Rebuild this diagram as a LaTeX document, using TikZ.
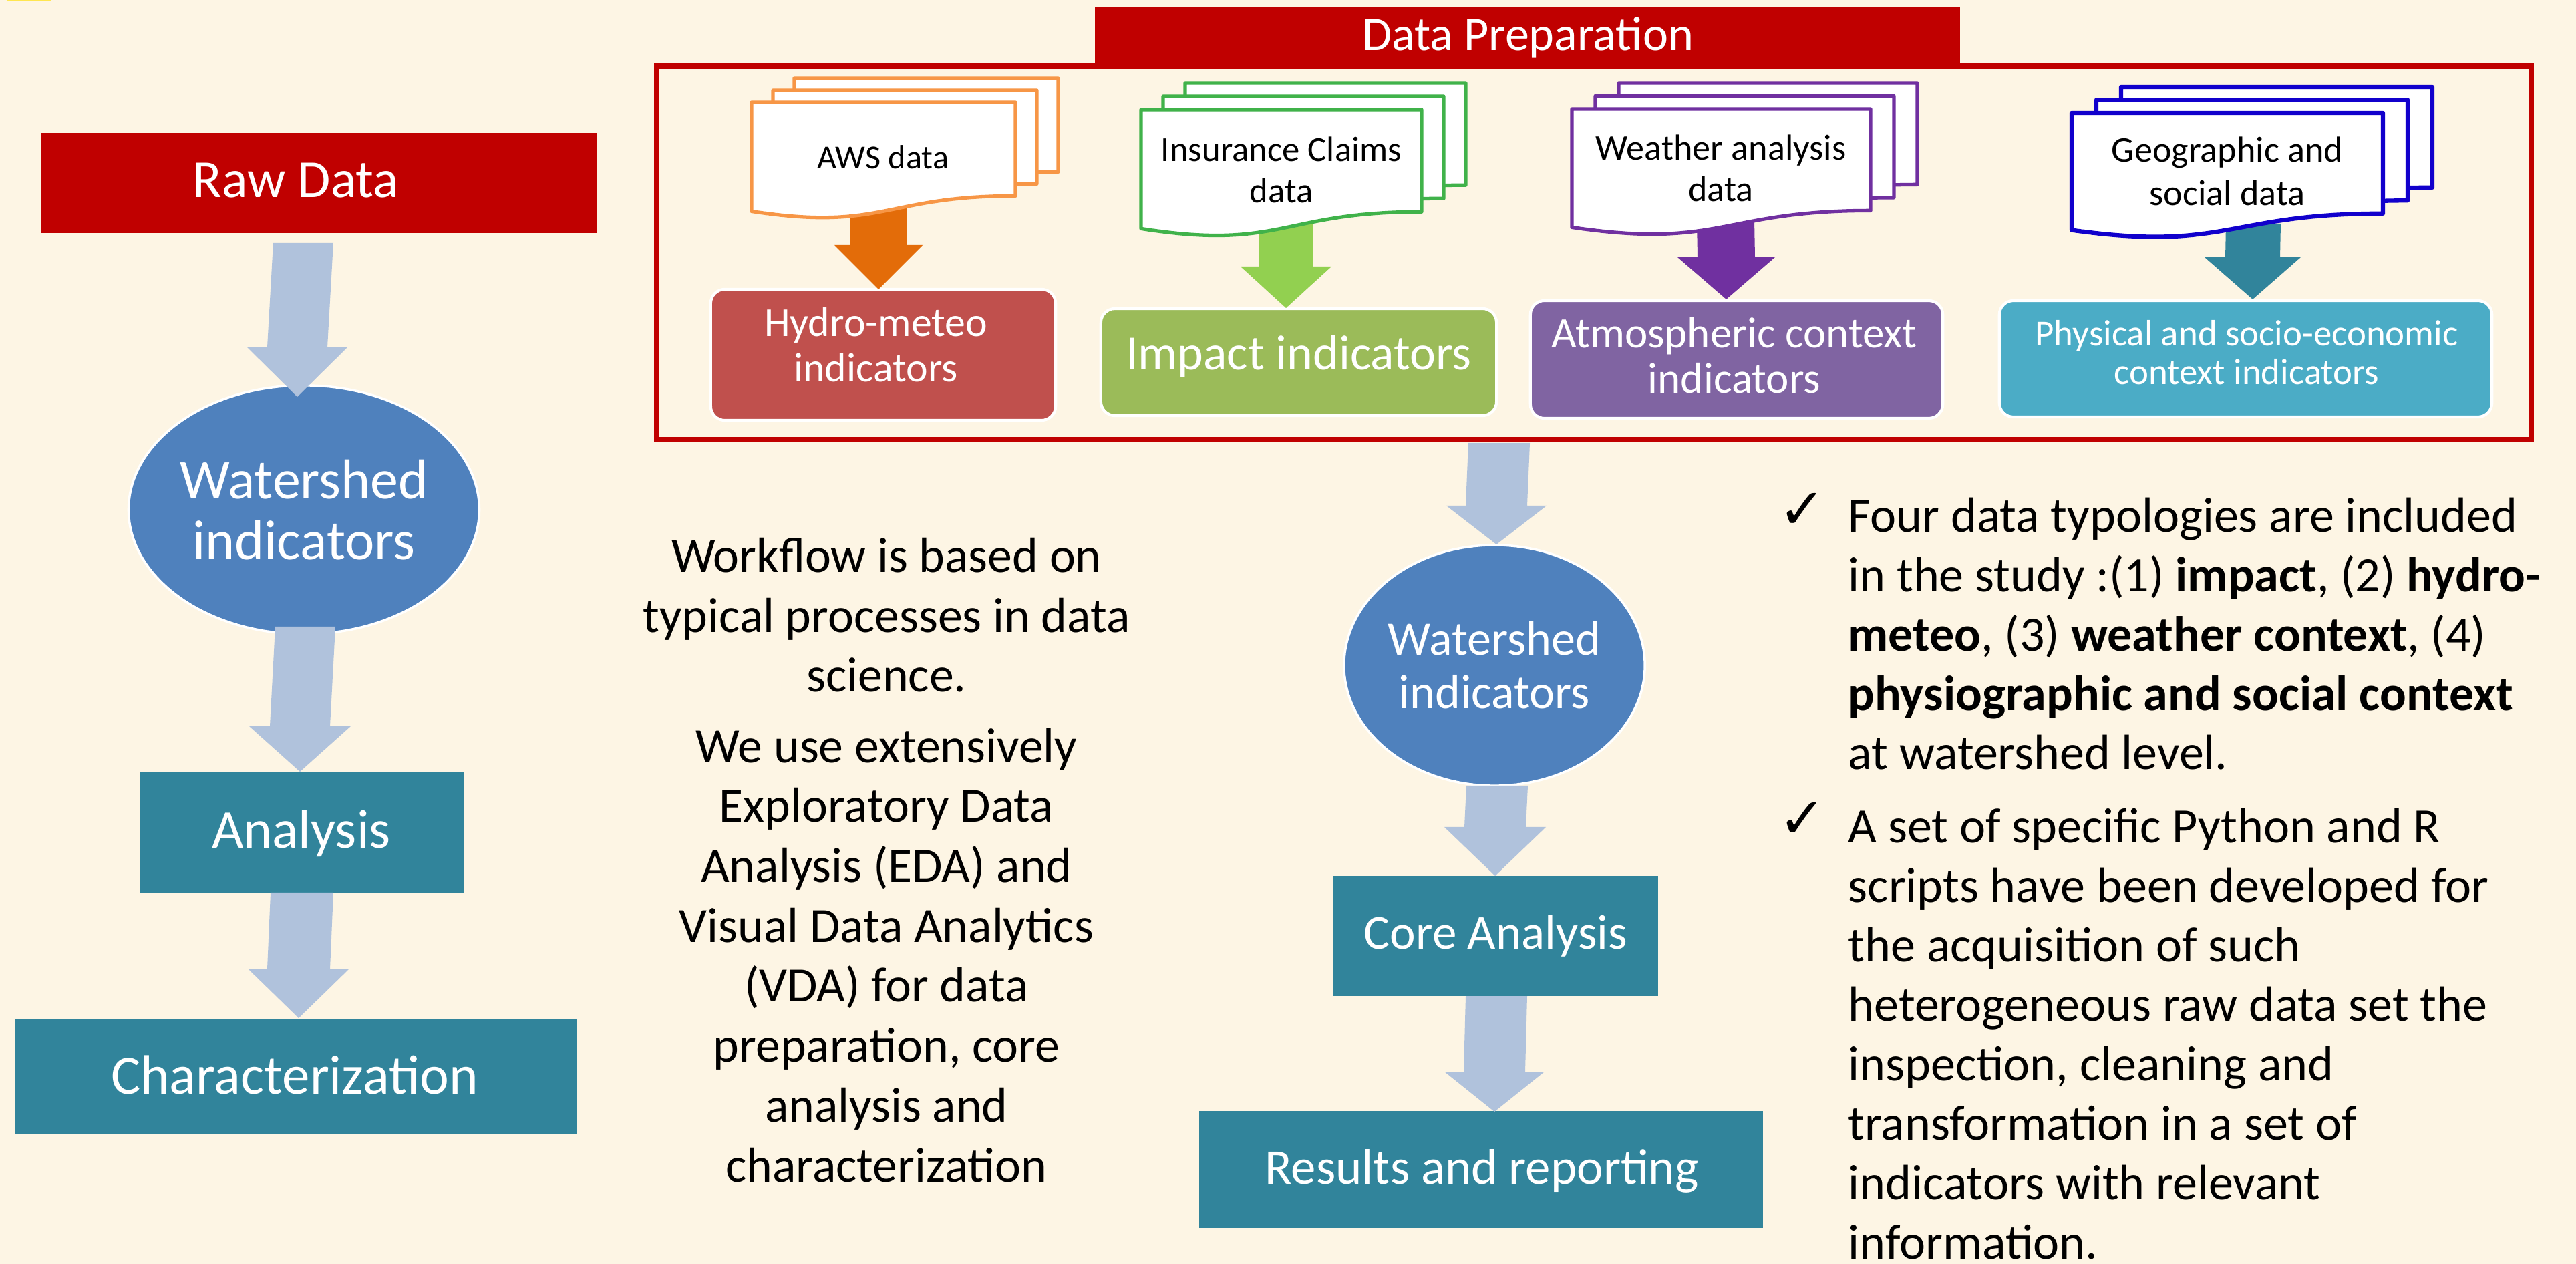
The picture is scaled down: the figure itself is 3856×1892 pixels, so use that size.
\documentclass[tikz,border=0pt]{standalone}
\usepackage{fontspec}
\setmainfont{Carlito}
\newfontfamily\dejavu{DejaVu Sans}
\usetikzlibrary{shapes.geometric,calc}
\definecolor{bgc}{RGB}{253,245,228}
\definecolor{darkred}{RGB}{192,0,0}
\definecolor{lightarrow}{RGB}{176,194,220}
\definecolor{ellblue}{RGB}{79,129,189}
\definecolor{tealbox}{RGB}{49,132,155}
\definecolor{hydroc}{RGB}{192,80,77}
\definecolor{impactc}{RGB}{155,187,89}
\definecolor{atmosc}{RGB}{128,100,162}
\definecolor{physc}{RGB}{75,172,198}
\definecolor{orangeb}{RGB}{247,150,70}
\definecolor{orangea}{RGB}{227,108,9}
\definecolor{greenb}{RGB}{64,178,74}
\definecolor{greena}{RGB}{146,208,80}
\definecolor{purpleb}{RGB}{112,48,160}
\definecolor{blueb}{RGB}{17,0,204}
\definecolor{yellowc}{RGB}{255,230,80}
\newcommand\fsz[2]{\fontsize{#1}{#2}\selectfont}
% #1 start coord, #2 tip coord, #3 half shaft, #4 half head, #5 head length, #6 colour
\newcommand\blockarrow[6]{\fill[#6] ($(#1)+(-#3,0)$) -- ($(#1)+(#3,0)$) -- ($(#2)+(#3,-#5)$) -- ($(#2)+(#4,-#5)$) -- (#2) -- ($(#2)+(-#4,-#5)$) -- ($(#2)+(-#3,-#5)$) -- cycle;}
% #1 x, #2 y (front top-left), #3 w, #4 h, #5 dx, #6 dy, #7 colour, #8 line width
\newcommand\docstack[8]{%
  \foreach \k in {2,1,0}{%
    \begin{scope}[shift={(#1+\k*#5,#2-\k*#6)}, xscale=#3, yscale=#4]
      \filldraw[fill=white, draw=#7, line width=#8, line join=round]
        (0,0) -- (1,0) -- (1,0.802) .. controls (0.5,0.802) and (0.5,1.107) .. (0,0.934) -- cycle;
    \end{scope}}}
\begin{document}
\begin{tikzpicture}[x=0.01cm,y=-0.01cm,
  flatbox/.style={rectangle, inner sep=0pt, outer sep=0pt},
  roundbox/.style={rectangle, rounded corners=6pt, draw=white, line width=1.2pt, inner sep=0pt},
  ellnode/.style={ellipse, fill=ellblue, draw=white, line width=1pt, inner sep=0pt, text=white, align=center},
  wtxt/.style={text=white, inner sep=0pt, anchor=base, align=center},
  btxt/.style={text=black, inner sep=0pt, anchor=base, align=center}]
\useasboundingbox (0,0) rectangle (3856,1892);
\fill[bgc] (0,0) rectangle (3856,1892);
\fill[yellowc] (11,0) rectangle (77,2);

% ---------- Data preparation frame ----------
\draw[darkred, line width=2.5pt] (983,99) rectangle (3789,658);
\node[flatbox, fill=darkred, minimum width=12.95cm, minimum height=0.88cm] (title) at (2286.5,55) {};
\node[wtxt, font=\fsz{20.5pt}{24pt}] (titletxt) at (2287,76) {Data Preparation};

% source coordinates (under the documents)
\coordinate (awsbot) at (1315,300);
\coordinate (insbot) at (1925,330);
\coordinate (weabot) at (2583,330);
\coordinate (geobot) at (3373,335);

% target boxes
\node[roundbox, fill=hydroc, minimum width=5.16cm, minimum height=1.96cm] (hydro) at (1322,531) {};
\node[roundbox, fill=impactc, minimum width=5.92cm, minimum height=1.60cm] (impact) at (1944,542) {};
\node[roundbox, fill=atmosc, minimum width=6.17cm, minimum height=1.76cm] (atmos) at (2599.5,538) {};
\node[roundbox, fill=physc, minimum width=7.37cm, minimum height=1.74cm] (phys) at (3361.5,537) {};

\coordinate (hydrotip) at (1315,433);
\coordinate (impacttip) at (1925,461);
\coordinate (atmostip) at (2584,448);
\coordinate (physttip) at (3372,448);

% coloured arrows
\blockarrow{awsbot}{hydrotip}{42}{67}{67}{orangea}
\blockarrow{insbot}{impacttip}{40}{68}{62}{greena}
\blockarrow{weabot}{atmostip}{43}{73}{63}{purpleb}
\blockarrow{geobot}{physttip}{41}{72}{63}{tealbox}

% document stacks
\docstack{1125}{153}{395}{175}{32}{18}{orangeb}{1.5pt}
\docstack{1708}{164}{420}{191}{33}{20}{greenb}{1.5pt}
\docstack{2353}{163}{447}{190}{35}{19.5}{purpleb}{1.5pt}
\docstack{3101}{169}{466}{188}{37}{19.5}{blueb}{1.8pt}

\node[btxt, font=\fsz{14.3pt}{18pt}] (awstxt) at (1322,253) {AWS data};
\node[btxt, font=\fsz{15pt}{17.9pt}] (instxt) at (1918,304) {Insurance Claims\\data};
\node[btxt, font=\fsz{15.4pt}{17.9pt}] (weatxt) at (2576,302) {Weather analysis\\data};
\node[btxt, font=\fsz{15.4pt}{18.5pt}] (geotxt) at (3334,308) {Geographic and\\social data};

\node[wtxt, font=\fsz{17.6pt}{19.35pt}] (hydrotxt) at (1311,572) {Hydro-meteo\\indicators};
\node[wtxt, font=\fsz{21pt}{24pt}] (impacttxt) at (1944,554) {Impact indicators};
\node[wtxt, font=\fsz{18.5pt}{19.6pt}] (atmostxt) at (2596,589) {Atmospheric context\\indicators};
\node[wtxt, font=\fsz{15.6pt}{16.5pt}] (phystxt) at (3363,576) {Physical and socio-economic\\context indicators};

% ---------- Left column ----------
\node[flatbox, fill=darkred, minimum width=8.32cm, minimum height=1.50cm] (raw) at (477,274) {};
\node[wtxt, font=\fsz{22.8pt}{27pt}] (rawtxt) at (443,296) {Raw Data};
\node[ellnode, minimum width=4.48cm, minimum height=3.72cm, font=\fsz{23.9pt}{25.9pt}] (ws1) at (455,763) {Watershed\\indicators};
\node[flatbox, fill=tealbox, minimum width=4.86cm, minimum height=1.80cm] (ana) at (452,1246) {};
\node[wtxt, font=\fsz{23.3pt}{27pt}] (anatxt) at (451,1270) {Analysis};
\node[flatbox, fill=tealbox, minimum width=8.41cm, minimum height=1.72cm] (chr) at (442.5,1611) {};
\node[wtxt, font=\fsz{23.6pt}{27pt}] (chrtxt) at (441,1637) {Characterization};

\coordinate (a1s) at (454,363);
\coordinate (a1t) at (445,594);
\coordinate (a2s) at (457,938);
\coordinate (a2t) at (449,1155);
\coordinate (a3s) at (452,1336);
\coordinate (a3t) at (447,1524);
\blockarrow{a1s}{a1t}{45}{75}{74}{lightarrow}
\blockarrow{a2s}{a2t}{45}{76}{68}{lightarrow}
\blockarrow{a3s}{a3t}{47}{75}{73}{lightarrow}

% ---------- Middle column ----------
\node[ellnode, minimum width=4.32cm, minimum height=3.60cm, font=\fsz{20.5pt}{22.8pt}] (ws2) at (2237,996) {Watershed\\indicators};
\node[flatbox, fill=tealbox, minimum width=4.86cm, minimum height=1.80cm] (core) at (2239,1401) {};
\node[wtxt, font=\fsz{20.8pt}{24pt}] (coretxt) at (2239,1421) {Core Analysis};
\node[flatbox, fill=tealbox, minimum width=8.44cm, minimum height=1.75cm] (res) at (2217,1750.5) {};
\node[wtxt, font=\fsz{21.3pt}{24pt}] (restxt) at (2218,1772) {Results and reporting};

\coordinate (a4s) at (2244,663);
\coordinate (a4t) at (2240,815);
\coordinate (a5s) at (2241,1176);
\coordinate (a5t) at (2238,1311);
\coordinate (a6s) at (2240,1491);
\coordinate (a6t) at (2237,1664);
\blockarrow{a4s}{a4t}{46}{75}{58}{lightarrow}
\blockarrow{a5s}{a5t}{46}{76}{73}{lightarrow}
\blockarrow{a6s}{a6t}{46}{75}{60}{lightarrow}

% ---------- Middle text ----------
\node[btxt, font=\fsz{21pt}{25.5pt}] (wf1) at (1327,1036) {Workflow is based on\\typical processes in data\\science.};
\node[btxt, font=\fsz{21pt}{25.5pt}] (wf2) at (1327,1769) {We use extensively\\Exploratory Data\\Analysis (EDA) and\\Visual Data Analytics\\(VDA) for data\\preparation, core\\analysis and\\characterization};

% ---------- Right text ----------
\node[inner sep=0pt, text=black, font=\dejavu\fsz{24pt}{24pt}] (chk1) at (2698,765) {✓};
\node[inner sep=0pt, text=black, font=\dejavu\fsz{24pt}{24pt}] (chk2) at (2698,1228) {✓};
\node[inner sep=0pt, anchor=base west, align=left, font=\fsz{21.06pt}{25.3pt}] (pt1) at (2766,1152)
  {Four data typologies are included\\in the study :(1) \textbf{impact}, (2) \textbf{hydro-}\\\textbf{meteo}, (3) \textbf{weather context}, (4)\\\textbf{physiographic and social context}\\at watershed level.};
\node[inner sep=0pt, anchor=base west, align=left, font=\fsz{21.06pt}{25.3pt}] (pt2) at (2766,1884)
  {A set of specific Python and R\\scripts have been developed for\\the acquisition of such\\heterogeneous raw data set the\\inspection, cleaning and\\transformation in a set of\\indicators with relevant\\information.};
\end{tikzpicture}
\end{document}
